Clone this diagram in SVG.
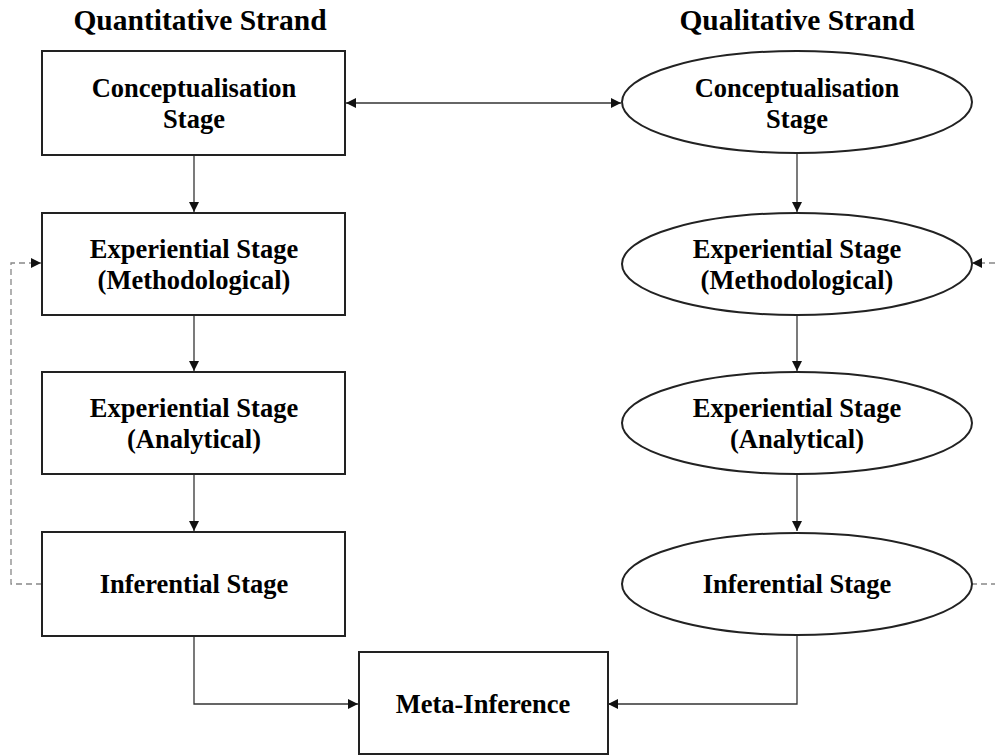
<svg xmlns="http://www.w3.org/2000/svg" width="995" height="755" viewBox="0 0 995 755">
  <style>
    .box { fill: #ffffff; stroke: #222222; stroke-width: 2; }
    .lbl { font-family: "Liberation Serif", "Times New Roman", serif; font-weight: bold; font-size: 26.5px; fill: #000000; text-anchor: middle; }
    .head { font-family: "Liberation Serif", "Times New Roman", serif; font-weight: bold; font-size: 29.5px; fill: #000000; text-anchor: middle; }
    .conn { fill: none; stroke: #333333; stroke-width: 1.3; }
    .dash { fill: none; stroke: #888888; stroke-width: 1.3; stroke-dasharray: 6 4; }
  </style>
  <defs>
    <marker id="arrow" viewBox="0 0 10 10" refX="10" refY="5" markerWidth="11" markerHeight="10" markerUnits="userSpaceOnUse" orient="auto-start-reverse">
      <path d="M0,0 L10,5 L0,10 Z" fill="#111111"/>
    </marker>
  </defs>
  <rect width="995" height="755" fill="#ffffff"/>

  <!-- strand headings -->
  <text class="head" x="200" y="30">Quantitative Strand</text>
  <text class="head" x="797" y="30">Qualitative Strand</text>

  <!-- connectors -->
  <g id="connectors">
    <line class="conn" x1="346" y1="103" x2="621" y2="103" marker-start="url(#arrow)" marker-end="url(#arrow)"/>
    <line class="conn" x1="194" y1="155" x2="194" y2="212" marker-end="url(#arrow)"/>
    <line class="conn" x1="194" y1="315" x2="194" y2="371" marker-end="url(#arrow)"/>
    <line class="conn" x1="194" y1="474" x2="194" y2="531" marker-end="url(#arrow)"/>
    <line class="conn" x1="797" y1="153" x2="797" y2="212" marker-end="url(#arrow)"/>
    <line class="conn" x1="797" y1="315" x2="797" y2="371" marker-end="url(#arrow)"/>
    <line class="conn" x1="797" y1="474" x2="797" y2="531" marker-end="url(#arrow)"/>
    <polyline class="conn" points="194,636 194,704 358,704" marker-end="url(#arrow)"/>
    <polyline class="conn" points="797,635 797,704 608,704" marker-end="url(#arrow)"/>
    <polyline class="dash" points="42,584 11,584 11,263 41,263" marker-end="url(#arrow)"/>
    <line class="dash" x1="995" y1="263" x2="972" y2="263" marker-end="url(#arrow)"/>
    <line class="dash" x1="971" y1="584" x2="995" y2="584"/>
  </g>

  <!-- quantitative strand -->
  <g id="quant-conceptualisation">
    <rect class="box" x="42" y="51" width="303" height="104"/>
    <text class="lbl" x="194" y="97">Conceptualisation</text>
    <text class="lbl" x="194" y="128">Stage</text>
  </g>
  <g id="quant-methodological">
    <rect class="box" x="42" y="213" width="303" height="102"/>
    <text class="lbl" x="194" y="258">Experiential Stage</text>
    <text class="lbl" x="194" y="289">(Methodological)</text>
  </g>
  <g id="quant-analytical">
    <rect class="box" x="42" y="372" width="303" height="102"/>
    <text class="lbl" x="194" y="417">Experiential Stage</text>
    <text class="lbl" x="194" y="448">(Analytical)</text>
  </g>
  <g id="quant-inferential">
    <rect class="box" x="42" y="532" width="303" height="104"/>
    <text class="lbl" x="194" y="593">Inferential Stage</text>
  </g>

  <!-- qualitative strand -->
  <g id="qual-conceptualisation">
    <ellipse class="box" cx="797" cy="102" rx="175" ry="51"/>
    <text class="lbl" x="797" y="97">Conceptualisation</text>
    <text class="lbl" x="797" y="128">Stage</text>
  </g>
  <g id="qual-methodological">
    <ellipse class="box" cx="797" cy="264" rx="175" ry="51"/>
    <text class="lbl" x="797" y="258">Experiential Stage</text>
    <text class="lbl" x="797" y="289">(Methodological)</text>
  </g>
  <g id="qual-analytical">
    <ellipse class="box" cx="797" cy="423" rx="175" ry="51"/>
    <text class="lbl" x="797" y="417">Experiential Stage</text>
    <text class="lbl" x="797" y="448">(Analytical)</text>
  </g>
  <g id="qual-inferential">
    <ellipse class="box" cx="797" cy="584" rx="175" ry="51"/>
    <text class="lbl" x="797" y="593">Inferential Stage</text>
  </g>

  <!-- integration -->
  <g id="meta-inference">
    <rect class="box" x="359" y="652" width="249" height="102"/>
    <text class="lbl" x="483" y="713">Meta-Inference</text>
  </g>
</svg>
